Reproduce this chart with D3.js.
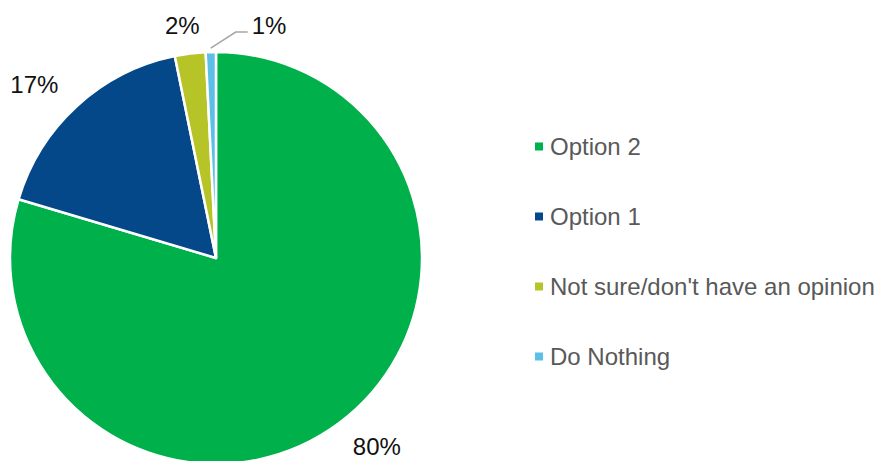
<!DOCTYPE html>
<html>
<head>
<meta charset="utf-8">
<script src="https://cdn.jsdelivr.net/npm/d3@7"></script>
<style>
  html, body { margin: 0; padding: 0; background: #ffffff; }
  svg { display: block; font-family: "Liberation Sans", Arial, sans-serif; }
</style>
</head>
<body>
<svg id="chart" width="877" height="461"></svg>
<script>
// Survey responses, in clockwise order from 12 o'clock
const categories = ["Option 2", "Option 1", "Not sure/don't have an opinion", "Do Nothing"];
const shares = [79.6, 17.2, 2.4, 0.8];
const colors = ["#00b04a", "#05488a", "#b6c428", "#5bbfe8"];

const svg = d3.select("#chart");
const cx = 216, cy = 258, radius = 206;

const data = categories.map((name, i) => ({ name, value: shares[i], color: colors[i] }));

const pie = d3.pie().sort(null).value(d => d.value);
const arcs = pie(data);
const arc = d3.arc().innerRadius(0).outerRadius(radius);

const g = svg.append("g").attr("transform", `translate(${cx},${cy})`);

g.selectAll("path.slice")
  .data(arcs)
  .join("path")
  .attr("class", "slice")
  .attr("d", arc)
  .attr("fill", d => d.data.color)
  .attr("stroke", "#ffffff")
  .attr("stroke-width", 2.5)
  .attr("stroke-linejoin", "round");

// Percentage labels placed just outside each slice
const fmt = v => Math.round(v) + "%";
const labelFont = 24;
const midDir = d => {
  const a = (d.startAngle + d.endAngle) / 2;
  return [Math.sin(a), -Math.cos(a)];
};

arcs.forEach((d, i) => {
  const [dx, dy] = midDir(d);
  if (i < arcs.length - 1) {
    const x = dx * (radius + 63);
    const y = dy * (radius + 29);
    g.append("text")
      .attr("x", x)
      .attr("y", y)
      .attr("dy", "0.36em")
      .attr("text-anchor", "middle")
      .attr("font-size", labelFont)
      .attr("fill", "#111111")
      .text(fmt(d.data.value));
  } else {
    // thin slice at the top gets a callout line
    const sx = dx * (radius + 4), sy = dy * (radius + 4);
    const ex = sx + 25, ey = sy - 16;
    const tx = ex + 12;
    g.append("polyline")
      .attr("points", `${sx},${sy} ${ex},${ey} ${tx},${ey}`)
      .attr("fill", "none")
      .attr("stroke", "#a6a6a6")
      .attr("stroke-width", 1.5);
    g.append("text")
      .attr("x", tx + 4)
      .attr("y", ey + 2)
      .attr("text-anchor", "start")
      .attr("font-size", labelFont)
      .attr("fill", "#111111")
      .text(fmt(d.data.value));
  }
});

// Legend
const legendY = d3.scalePoint()
  .domain(categories)
  .range([155, 365]);

const legend = svg.append("g");
const rows = legend.selectAll("g.row")
  .data(data)
  .join("g")
  .attr("class", "row")
  .attr("transform", d => `translate(535,${legendY(d.name)})`);

rows.append("rect")
  .attr("x", 0)
  .attr("y", -12.5)
  .attr("width", 8)
  .attr("height", 8)
  .attr("fill", d => d.color);

rows.append("text")
  .attr("x", 15)
  .attr("y", 0)
  .attr("font-size", labelFont)
  .attr("fill", "#595959")
  .text(d => d.name);
</script>
</body>
</html>
